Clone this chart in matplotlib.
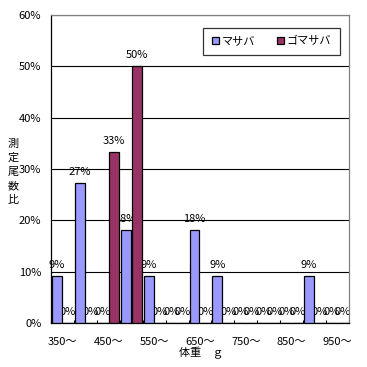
import matplotlib
matplotlib.use("Agg")
import matplotlib.pyplot as plt
import numpy as np

plt.rcParams['font.family'] = ['Noto Sans CJK JP', 'DejaVu Sans']

# 体重階級 (g)
weights = [350, 400, 450, 500, 550, 600, 650, 700, 750, 800, 850, 900, 950]
# 測定尾数比 (%)
masaba = [9.09, 27.27, 0, 18.18, 9.09, 0, 18.18, 9.09, 0, 0, 0, 9.09, 0]
gomasaba = [0, 0, 33.33, 50.0, 0, 0, 0, 0, 0, 0, 0, 0, 0]
ylabel_chars = ["測", "定", "尾", "数", "比"]

fs = 8
fig = plt.figure(figsize=(3.67, 3.67), dpi=100)
ax = fig.add_axes([51/367, 44/367, 298/367, 308/367])

x = np.arange(len(weights))
w = 0.435
b1 = ax.bar(x - 0.24, masaba, w, color="#9999FF", edgecolor="black", linewidth=0.9, zorder=3, label="マサバ")
b2 = ax.bar(x + 0.24, gomasaba, w, color="#993366", edgecolor="black", linewidth=0.9, zorder=3, label="ゴマサバ")

for bars, vals in [(b1, masaba), (b2, gomasaba)]:
    for r, v in zip(bars, vals):
        ax.annotate("%d%%" % round(v), (r.get_x() + r.get_width()/2, v),
                    xytext=(0, 8), textcoords="offset points",
                    ha="center", va="center", fontsize=fs, zorder=2.5)

ax.set_xlim(-0.5, len(weights) - 0.5)
ax.set_ylim(0, 60)
ax.set_yticks(range(0, 61, 10))
ax.set_yticklabels(["%d%%" % t for t in range(0, 61, 10)], fontsize=fs)
ax.tick_params(axis="y", length=0, pad=7)

ax.set_xticks(x[::2])
ax.set_xticklabels(["%d～" % v for v in weights[::2]], fontsize=fs)
ax.set_xticks(np.arange(len(weights) + 1) - 0.5, minor=True)
ax.tick_params(axis="x", which="major", length=0, pad=10)
ax.tick_params(axis="x", which="minor", direction="in", length=2.5, width=0.8)

ax.yaxis.grid(True, color="black", linewidth=0.8)
ax.set_axisbelow(True)
for s in ["left", "bottom"]:
    ax.spines[s].set_color("black")
    ax.spines[s].set_linewidth(0.9)
for s in ["top", "right"]:
    ax.spines[s].set_color("#808080")
    ax.spines[s].set_linewidth(0.9)

leg = ax.legend(loc="center", bbox_to_anchor=(0.741, 0.914), ncol=2, fontsize=fs,
                frameon=True, fancybox=False, edgecolor="black",
                handlelength=0.6, handleheight=0.6, handletextpad=0.25,
                columnspacing=2.0, borderpad=0.8)
leg.get_frame().set_linewidth(0.9)

fig.text(201/367, 1 - 353/367, "体重　ｇ", ha="center", va="center", fontsize=fs)
# 縦書きの軸ラベル
for i, ch in enumerate(ylabel_chars):
    fig.text(13/367, 1 - (144 + 14*i)/367, ch, ha="center", va="center", fontsize=fs)

fig.savefig("out.png", dpi=100)
